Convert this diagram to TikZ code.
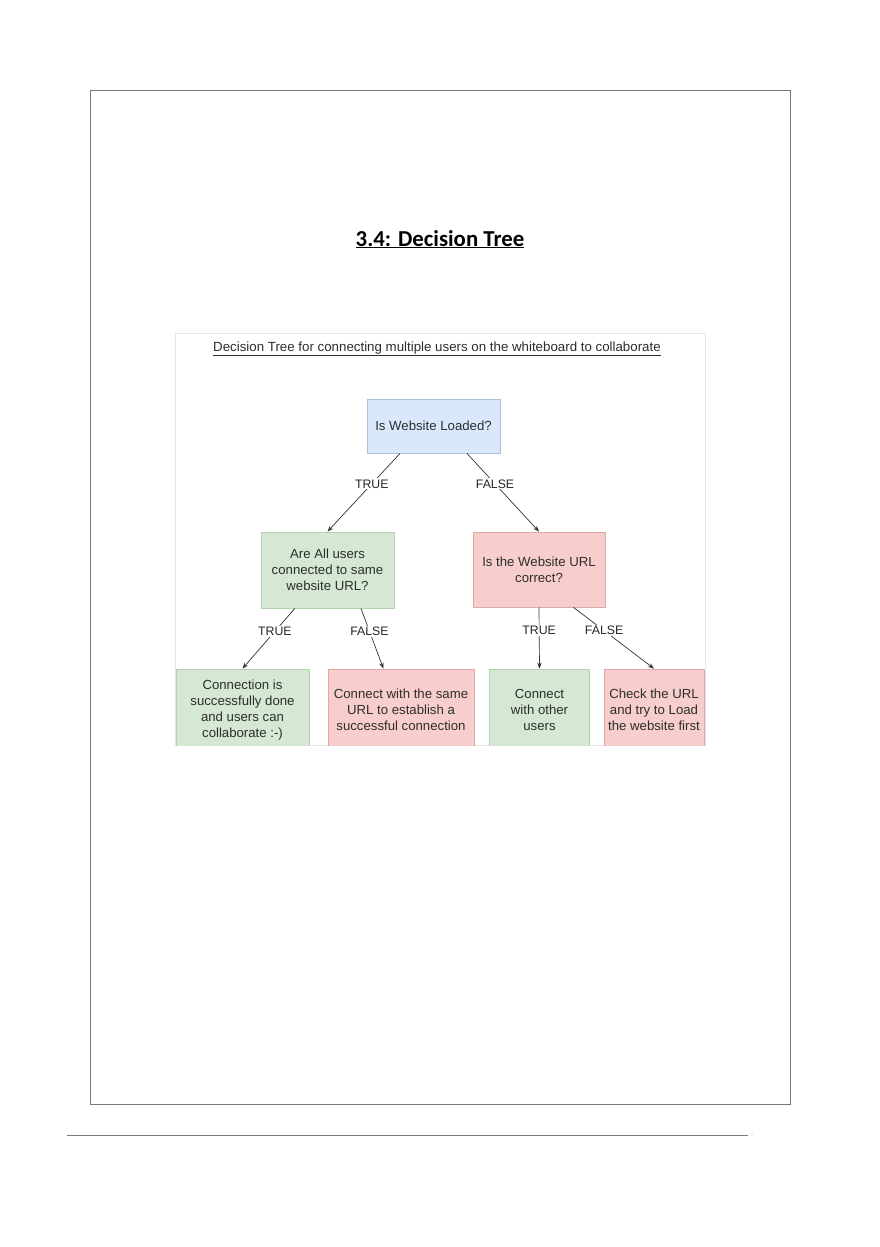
\documentclass[tikz,border=0pt]{standalone}
\usepackage{fontspec}
\setmainfont{Liberation Sans}
\newfontfamily\titlefont{Carlito}
\usetikzlibrary{arrows.meta,calc}
\definecolor{bluefill}{HTML}{DAE8FC}
\definecolor{blueline}{HTML}{A9C0DC}
\definecolor{greenfill}{HTML}{D5E8D4}
\definecolor{greenline}{HTML}{B5D0AC}
\definecolor{redfill}{HTML}{F8CECC}
\definecolor{redline}{HTML}{DFA9A8}
\definecolor{txt}{HTML}{2E2E2E}
\definecolor{frame}{HTML}{7A7A7A}
\definecolor{imgborder}{HTML}{E6E6E6}
\begin{document}
\begin{tikzpicture}[x=1pt,y=-1pt,
  boxbase/.style={rectangle, align=center, text=txt, inner sep=0pt,
    font=\fontsize{13.2}{16}\selectfont, line width=0.8pt},
  bluebox/.style={boxbase, fill=bluefill, draw=blueline},
  greenbox/.style={boxbase, fill=greenfill, draw=greenline},
  redbox/.style={boxbase, fill=redfill, draw=redline},
  conn/.style={draw=black!80, line width=0.7pt, -{Stealth[length=6pt,width=4.5pt]}},
  lbl/.style={fill=white, inner sep=1.2pt, text=black!85, font=\fontsize{12.3}{14}\selectfont}
]
\useasboundingbox (0,0) rectangle (880,1247);
\fill[white] (0,0) rectangle (880,1247);
% page frame
\draw[frame, line width=0.9pt] (90,90) rectangle (790,1104);
% footer rule
\draw[frame, line width=0.9pt] (67,1135) -- (748,1135);
\fill[frame!60] (752,1135) circle (0.6);
% title
\node[anchor=base, font=\titlefont\bfseries\fontsize{22.8}{27}\selectfont] (title) at (440,246) {\underline{3.4: Decision Tree}};
% image border
\draw[imgborder, line width=0.8pt] (175,333) rectangle (705,745);
% subtitle
\node[anchor=base, text=txt, font=\fontsize{13.3}{15}\selectfont] (sub) at (437,351) {\underline{Decision Tree for connecting multiple users on the whiteboard to collaborate}};
% boxes
\node[bluebox, minimum width=133pt, minimum height=54pt] (root) at (433.5,426) {Is Website Loaded?};
\node[greenbox, minimum width=133pt, minimum height=76pt] (g1) at (327.5,570) {Are All users\\connected to same\\website URL?};
\node[redbox, minimum width=132pt, minimum height=75pt] (r1) at (539,569.5) {Is the Website URL\\correct?};
\begin{scope}
\clip (175,333) rectangle (705.5,745);
\node[greenbox, minimum width=133pt, minimum height=82pt] (b1) at (242.5,710) {Connection is\\successfully done\\and users can\\collaborate :-)};
\node[redbox, minimum width=146pt, minimum height=82pt] (b2) at (401,710) {Connect with the same\\URL to establish a\\successful connection};
\node[greenbox, minimum width=100pt, minimum height=82pt] (b3) at (539.5,710) {Connect\\with other\\users};
\node[redbox, minimum width=100pt, minimum height=82pt] (b4) at (654,710) {Check the URL\\and try to Load\\the website first};
\end{scope}
% connectors
\draw[conn] ($(root.south west)!0.25!(root.south east)$) -- node[lbl, pos=0.39] {TRUE} (g1.north);
\draw[conn] ($(root.south west)!0.75!(root.south east)$) -- node[lbl, pos=0.39] {FALSE} (r1.north);
\draw[conn] ($(g1.south west)!0.256!(g1.south east)$) -- node[lbl, pos=0.38] {TRUE} (b1.north);
\draw[conn] ($(g1.south west)!0.75!(g1.south east)$) -- node[lbl, pos=0.38] {FALSE} ($(b2.north west)!0.38!(b2.north east)$);
\draw[conn] (r1.south) -- node[lbl, pos=0.38] {TRUE} (b3.north);
\draw[conn] ($(r1.south west)!0.76!(r1.south east)$) -- node[lbl, pos=0.38] {FALSE} (b4.north);
\end{tikzpicture}
\end{document}
